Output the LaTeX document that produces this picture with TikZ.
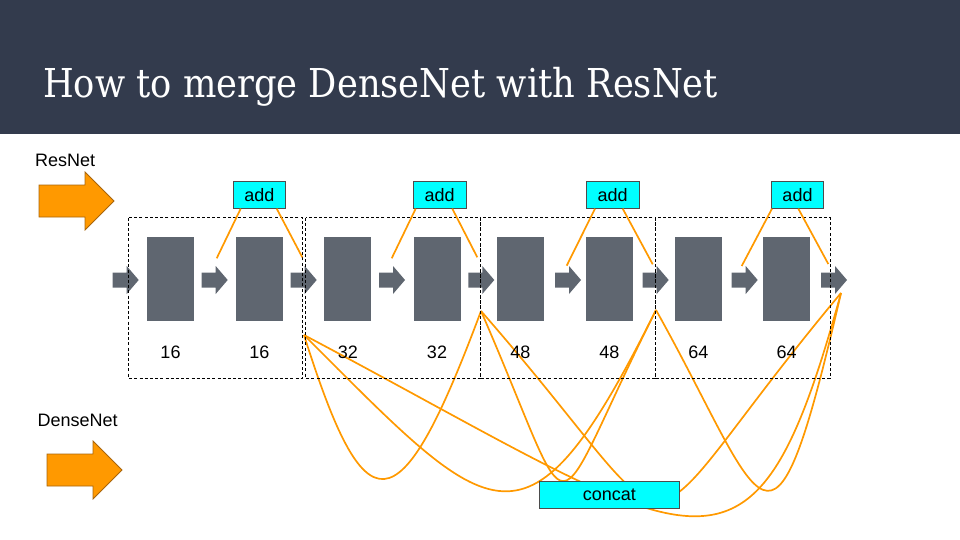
\documentclass[tikz,border=0pt]{standalone}
\usepackage{graphicx}
\usepackage{fontspec}
\setmainfont{Liberation Sans}
\newfontfamily\titlefont{DejaVu Serif}
\definecolor{hdr}{HTML}{333B4D}
\definecolor{blockgray}{HTML}{5F6670}
\definecolor{lineorange}{HTML}{FF9900}
\definecolor{bigorange}{HTML}{FF9900}
\definecolor{bigborder}{HTML}{A8650C}
\definecolor{cyanbox}{HTML}{00FFFF}
\begin{document}
\begin{tikzpicture}[x=1pt,y=-1pt,
  lbl/.style={font=\fontsize{18}{21}\selectfont, inner sep=0pt},
  blk/.style={fill=blockgray, minimum width=47pt, minimum height=84pt, inner sep=0pt},
  opbox/.style={fill=cyanbox, draw=black!70, line width=0.7pt, inner sep=0pt,
    font=\fontsize{18}{21}\selectfont},
  olink/.style={draw=lineorange, line width=1.7pt},
  dbox/.style={draw=black, line width=0.9pt, dash pattern=on 3pt off 2.2pt},
  garrow/.pic={\fill[blockgray] (0,-7.5) -- (14,-7.5) -- (14,-14) -- (26,0) -- (14,14) -- (14,7.5) -- (0,7.5) -- cycle;},
  bigarrow/.pic={\filldraw[fill=bigorange, draw=bigborder, line width=0.8pt]
     (0,-16) -- (46,-16) -- (46,-29) -- (75,0) -- (46,29) -- (46,16) -- (0,16) -- cycle;}
]
\useasboundingbox (0,0) rectangle (960,540);
% header
\fill[hdr] (0,0) rectangle (960,134);
\node[anchor=base west, inner sep=0pt, text=white,
  font=\titlefont\fontsize{39.8}{44}\selectfont] (title) at (43,98)
  {\scalebox{0.886}[1]{How to merge DenseNet with ResNet}};

% side labels and big arrows
\node[lbl, anchor=base west] (lres) at (35,167) {ResNet};
\node[lbl, anchor=base west] (ldense) at (37.5,426.5) {DenseNet};
\pic at (39,201) {bigarrow};
\pic at (47,470) {bigarrow};

% dense connection endpoints
\coordinate (A) at (304,335);
\coordinate (B) at (481,311);
\coordinate (C) at (656,310);
\coordinate (D) at (841,293);

% dense curves
\draw[olink] (A) .. controls (365,528) and (398,534) .. (B);
\draw[olink] (A) .. controls (494,525) and (526,570) .. (C);
\draw[olink] (A) .. controls (704,547) and (751,620) .. (D);
\draw[olink] (B) .. controls (581,541) and (543,535) .. (C);
\draw[olink] (B) .. controls (705,567) and (613,566) .. (D);
\draw[olink] (C) .. controls (765,505) and (770,600) .. (D);

% concat box
\node[opbox, minimum width=140pt, minimum height=26.5pt] (concat) at (609.3,495) {concat};

% gray arrows
\foreach \x in {112.7,201.7,290.7,379,468.3,555,642.7,731.7,821}
  \pic at (\x,280) {garrow};

% blocks
\node[blk] (b1) at (170.5,279) {};
\node[blk] (b2) at (259.4,279) {};
\node[blk] (b3) at (347.9,279) {};
\node[blk] (b4) at (437,279) {};
\node[blk] (b5) at (520.4,279) {};
\node[blk] (b6) at (609.4,279) {};
\node[blk] (b7) at (698.4,279) {};
\node[blk] (b8) at (786.7,279) {};

% channel numbers
\node[lbl, anchor=base] (n1) at (170.5,358) {16};
\node[lbl, anchor=base] (n2) at (259.4,358) {16};
\node[lbl, anchor=base] (n3) at (347.9,358) {32};
\node[lbl, anchor=base] (n4) at (437,358) {32};
\node[lbl, anchor=base] (n5) at (520.4,358) {48};
\node[lbl, anchor=base] (n6) at (609.4,358) {48};
\node[lbl, anchor=base] (n7) at (698.4,358) {64};
\node[lbl, anchor=base] (n8) at (786.7,358) {64};

% dashed stage boxes
\draw[dbox] (128.7,217.5) rectangle (302.3,378.3);
\draw[dbox] (305.7,217.5) rectangle (480.6,378.3);
\draw[dbox] (480.3,217.5) rectangle (655.1,378.3);
\draw[dbox] (655.2,217.5) rectangle (830,378.3);

% add boxes
\node[opbox, minimum width=52pt, minimum height=26.6pt] (add1) at (259.3,195) {add};
\node[opbox, minimum width=52.7pt, minimum height=26.6pt] (add2) at (439.7,195) {add};
\node[opbox, minimum width=53.3pt, minimum height=26.6pt] (add3) at (612.7,195) {add};
\node[opbox, minimum width=51.6pt, minimum height=26.6pt] (add4) at (797.5,195) {add};

% residual link ends
\coordinate (r1l) at (216.7,258.3);
\coordinate (r1r) at (302.3,257.3);
\coordinate (r2l) at (391.7,258.3);
\coordinate (r2r) at (477.3,257.3);
\coordinate (r3l) at (566.7,265.7);
\coordinate (r3r) at (652.7,264.3);
\coordinate (r4l) at (741.7,266);
\coordinate (r4r) at (828.3,264);

\draw[olink] ([xshift=-18.6pt]add1.south) -- (r1l);
\draw[olink] ([xshift=17.4pt]add1.south) -- (r1r);
\draw[olink] ([xshift=-24pt]add2.south) -- (r2l);
\draw[olink] ([xshift=12.6pt]add2.south) -- (r2r);
\draw[olink] ([xshift=-17.7pt]add3.south) -- (r3l);
\draw[olink] ([xshift=10pt]add3.south) -- (r3r);
\draw[olink] ([xshift=-25.5pt]add4.south) -- (r4l);
\draw[olink] ([xshift=0.8pt]add4.south) -- (r4r);
\end{tikzpicture}
\end{document}
